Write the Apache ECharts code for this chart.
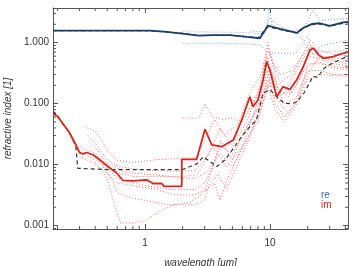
<!DOCTYPE html>
<html>
  <head>
    <meta charset="UTF-8" />
    <script src="https://cdn.jsdelivr.net/npm/echarts@6/dist/echarts.min.js"></script>
    <style>
      html, body { margin: 0; padding: 0; background: #fff; }
    </style>
  </head>
  <body>
    <div id="main"></div>
    <script>
      const width = 352;
      const height = 266;
      const main = document.getElementById('main');
      main.style.width = `${width}px`;
      main.style.height = `${height}px`;

      // axis ranges (wavelength in um, refractive index)
      const xRange = [0.184, 42];
      const yRange = [0.00088, 3.7];

      // real part, main curve
      const reMain = [[0.185,1.57],[1.1,1.57],[1.5,1.5],[1.9,1.42],[2.7,1.3],[3.5,1.33],[4.8,1.33],[6.5,1.24],[8.3,1.18],[9.6,1.9],[12,1.68],[16.4,1.44],[18.4,1.74],[21.7,2.03],[25,2.08],[30,1.88],[38.4,2.15],[42,2.2]];
      // real part, reference (dashed)
      const reRef = [[0.185,1.57],[1.1,1.57],[2,1.42],[2.7,1.31],[5,1.32],[8,1.2],[9.6,1.82],[11,1.72],[13,1.57],[16,1.46],[18,1.66],[21,1.96],[25,2.02],[30,1.86],[42,2.15]];
      // imaginary part, main curve
      const imMain = [[0.185,0.068],[0.2,0.062],[0.25,0.033],[0.284,0.02],[0.3,0.0157],[0.32,0.015],[0.342,0.0158],[0.386,0.0144],[0.436,0.0119],[0.506,0.0093],[0.594,0.0073],[0.667,0.0055],[0.8,0.0054],[1.04,0.0056],[1.16,0.0049],[1.36,0.0049],[1.42,0.0044],[1.97,0.0044],[1.97,0.0122],[2.59,0.0122],[3.02,0.038],[3.42,0.021],[4.1,0.0197],[5.1,0.0254],[5.94,0.054],[6.9,0.13],[7.3,0.089],[8.0,0.115],[8.8,0.245],[9.4,0.49],[10,0.35],[11.3,0.13],[12.7,0.19],[14.4,0.17],[16.3,0.245],[18.4,0.4],[20.9,0.76],[22.3,0.81],[24.4,0.63],[26.7,0.55],[31.9,0.59],[38.4,0.67],[42,0.7]];
      // imaginary part, reference (dashed)
      const imRef = [[0.185,0.075],[0.2,0.062],[0.25,0.033],[0.28,0.02],[0.29,0.0087],[0.5,0.0083],[1,0.0083],[2,0.0083],[2.6,0.0103],[2.93,0.0135],[3.75,0.0093],[4.37,0.012],[5.1,0.0185],[5.94,0.029],[6.9,0.042],[7.8,0.054],[8.8,0.15],[10,0.168],[11.3,0.13],[13,0.101],[15,0.1],[16.5,0.108],[18.6,0.148],[20.5,0.21],[22,0.28],[24,0.27],[27,0.38],[31,0.45],[38,0.55],[42,0.6]];

      // individual samples, imaginary part (dotted)
      const imS1 = [[0.33,0.042],[0.4,0.035],[0.45,0.026],[0.5,0.017],[0.6,0.0118],[0.8,0.0108],[1.2,0.012],[2.0,0.0128],[2.6,0.013],[3.1,0.03],[3.6,0.055],[4.3,0.03],[5.5,0.045],[7,0.16],[8.5,0.3],[9.6,1.0],[10.5,0.45],[12,0.22],[15,0.3],[18,0.6],[21,1.1],[25,0.75],[32,0.65],[42,0.6]];
      const imS2 = [[0.35,0.03],[0.42,0.02],[0.5,0.012],[0.6,0.0095],[0.8,0.0085],[1.2,0.008],[1.8,0.0078],[2.5,0.008],[3.0,0.012],[3.5,0.02],[4.5,0.009],[6,0.02],[7.5,0.07],[9,0.3],[10,0.7],[11.5,0.18],[14,0.13],[17,0.25],[20,0.6],[24,0.55],[32,0.45],[42,0.42]];
      const imS3 = [[0.3,0.02],[0.4,0.015],[0.5,0.0095],[0.6,0.0075],[0.8,0.0064],[1.2,0.0064],[2.0,0.0064],[2.6,0.0068],[3.2,0.014],[4.0,0.04],[5,0.02],[6.5,0.05],[8,0.15],[9.4,0.6],[11,0.2],[13,0.1],[16,0.12],[20,0.35],[25,0.35],[32,0.3],[42,0.3]];
      const imS4 = [[0.3,0.016],[0.4,0.012],[0.5,0.0088],[0.6,0.006],[0.8,0.005],[1.2,0.0043],[1.6,0.0039],[2.5,0.0039],[3.0,0.005],[3.5,0.009],[4.0,0.025],[5,0.012],[6,0.03],[8,0.09],[9.5,0.35],[11,0.1],[13,0.06],[16,0.1],[20,0.4],[24,0.5],[30,0.4],[42,0.35]];
      const imS5 = [[0.3,0.014],[0.4,0.01],[0.5,0.007],[0.6,0.005],[0.8,0.0045],[1.2,0.004],[1.7,0.0032],[2.5,0.0032],[3.2,0.004],[3.6,0.005],[4.0,0.0026],[4.6,0.006],[6,0.02],[8,0.05],[9.5,0.2],[11,0.08],[13,0.05],[16,0.09],[20,0.3],[25,0.6],[32,0.5],[42,0.45]];
      const imS6 = [[0.4,0.011],[0.5,0.006],[0.55,0.0028],[0.6,0.0016],[0.64,0.0011],[0.8,0.0011],[1.0,0.0012],[1.3,0.0017],[1.7,0.0022],[2.3,0.0024],[3.0,0.0035],[3.5,0.01],[4,0.02],[5,0.015],[6.5,0.04],[8,0.08],[9.5,0.25],[11,0.12],[13,0.15],[18,0.5],[21,0.9],[25,0.6],[35,0.5],[42,0.5]];
      const imS7 = [[0.45,0.01],[0.55,0.0055],[0.6,0.0035],[0.8,0.0028],[1.0,0.0026],[1.5,0.0022],[2.5,0.0022],[3.0,0.0026],[3.3,0.005],[3.8,0.007],[4.5,0.004],[5.5,0.01],[7,0.03],[9,0.15],[10,0.4],[12,0.15],[15,0.15],[20,0.45],[25,0.45],[42,0.38]];
      const imS8 = [[2.0,0.058],[2.7,0.058],[3.0,0.1],[3.5,0.06],[4.2,0.055],[5,0.058],[6,0.05],[7,0.09],[8.5,0.2],[9.6,0.8],[10.5,0.5],[12,0.3],[15,0.35],[19,0.7],[22,0.9],[26,0.6],[35,0.55],[42,0.55]];
      const imS9 = [[0.35,0.025],[0.42,0.017],[0.5,0.0105],[0.7,0.0075],[1.0,0.007],[1.5,0.0065],[2.0,0.006],[2.6,0.006],[3.2,0.008],[4.0,0.015],[5,0.009],[6.5,0.025],[8,0.06],[9,0.12],[10,0.25],[12,0.1],[14,0.07],[17,0.12],[20,0.25],[25,0.3],[42,0.28]];

      // individual samples, real part (dotted)
      const reS1 = [[2.0,1.5],[3,1.5],[5,1.48],[7,1.45],[8.5,1.4],[9.3,1.45],[9.8,3.8],[10.4,1.9],[12,1.7],[15,1.55],[18,1.7],[20,2.2],[22,3.4],[25,2.3],[30,2.4],[42,2.5]];
      const reS2 = [[2.0,0.98],[4,0.98],[7,0.95],[8.5,0.9],[9.5,0.68],[12,0.67],[16,0.67],[18,0.9],[20,1.3],[22,0.63],[25,0.7],[42,0.75]];
      const reS3 = [[7,1.55],[9,1.5],[10,2.6],[11,2.1],[13,1.7],[17,1.34],[22,0.65],[26,0.9],[42,1.1]];

      const imSamples = [imS1, imS2, imS3, imS4, imS5, imS6, imS7, imS8, imS9];
      const reSamples = [reS1, reS2, reS3];

      const font = '"Liberation Sans", Arial, Helvetica, sans-serif';
      const frame = '#555';

      const dotted = (data, color) => ({
        type: 'line',
        data,
        showSymbol: false,
        silent: true,
        clip: true,
        lineStyle: { width: 1, type: [1, 2], color },
        z: 1,
      });

      const series = [];
      imSamples.forEach((d) => series.push(dotted(d, '#ec6a6a')));
      reSamples.forEach((d) => series.push(dotted(d, '#7d9cc8')));
      series.push({
        type: 'line', data: imRef, showSymbol: false, clip: true,
        lineStyle: { width: 1.2, type: [4, 3], color: '#333' }, z: 2,
      });
      series.push({
        type: 'line', data: reRef, showSymbol: false, clip: true,
        lineStyle: { width: 1.2, type: [4, 3], color: '#333' }, z: 2,
      });
      series.push({
        type: 'line', data: imMain, showSymbol: false, clip: true,
        lineStyle: { width: 1.8, color: '#d4291f' }, z: 3,
      });
      series.push({
        type: 'line', data: reMain, showSymbol: false, clip: true,
        lineStyle: { width: 1.8, color: '#1c3d68' }, z: 3,
      });

      const baseX = {
        type: 'log',
        logBase: 10,
        min: xRange[0],
        max: xRange[1],
        axisLine: { show: true, lineStyle: { color: frame, width: 1 } },
        axisTick: { show: true, inside: true, length: 5, lineStyle: { color: frame } },
        splitLine: { show: false },
        minorTick: { show: false },
      };
      const baseY = {
        type: 'log',
        logBase: 10,
        min: yRange[0],
        max: yRange[1],
        axisLine: { show: true, lineStyle: { color: frame, width: 1 } },
        axisTick: { show: true, inside: true, length: 5, lineStyle: { color: frame } },
        splitLine: { show: false },
      };
      const isDecade = (v) => Math.abs(Math.log10(v) - Math.round(Math.log10(v))) < 1e-6;

      const myChart = echarts.init(main);
      const option = {
        animation: false,
        grid: { left: 53, top: 8, right: 4, bottom: 37, containLabel: false, outerBoundsMode: 'none' },
        xAxis: [
          {
            ...baseX,
            position: 'bottom',
            name: 'wavelength [\u03bcm]',
            nameLocation: 'middle',
            nameGap: 29,
            nameTextStyle: { fontFamily: font, fontSize: 10, fontStyle: 'italic', color: '#333' },
            axisLabel: {
              margin: 9,
              fontFamily: font,
              fontSize: 10,
              color: '#333',
              showMinLabel: false,
              showMaxLabel: false,
              formatter: (v) => (isDecade(v) ? String(Math.round(v)) : ''),
            },
          },
          { ...baseX, position: 'top', axisLabel: { show: false } },
        ],
        yAxis: [
          {
            ...baseY,
            position: 'left',
            name: 'refractive index [1]',
            nameLocation: 'middle',
            nameGap: 33,
            nameTextStyle: { fontFamily: font, fontSize: 10, fontStyle: 'italic', color: '#333' },
            axisLabel: {
              margin: 4,
              fontFamily: font,
              fontSize: 10,
              color: '#333',
              showMinLabel: false,
              showMaxLabel: false,
              formatter: (v) => (isDecade(v) ? v.toFixed(3) : ''),
            },
          },
          { ...baseY, position: 'right', axisLabel: { show: false } },
        ],
        series,
        graphic: [
          {
            type: 'text', left: 321, top: 190,
            style: { text: 're', fill: '#3b6fa8', font: `10px ${font}` },
          },
          {
            type: 'text', left: 321, top: 200,
            style: { text: 'im', fill: '#d4291f', font: `10px ${font}` },
          },
        ],
      };
      myChart.setOption(option);

      // minor log ticks on all four sides
      const minor = [];
      const gridRect = { x0: 53, y0: 8, x1: width - 4, y1: height - 37 };
      const minorLen = 3;
      [0.1, 1, 10].forEach((d) => {
        for (let k = 2; k <= 9; k++) {
          const v = k * d;
          if (v <= xRange[0] || v >= xRange[1]) continue;
          const px = myChart.convertToPixel({ xAxisIndex: 0 }, v);
          minor.push({ type: 'line', silent: true, shape: { x1: px, y1: gridRect.y1, x2: px, y2: gridRect.y1 - minorLen }, style: { stroke: frame, lineWidth: 1 } });
          minor.push({ type: 'line', silent: true, shape: { x1: px, y1: gridRect.y0, x2: px, y2: gridRect.y0 + minorLen }, style: { stroke: frame, lineWidth: 1 } });
        }
      });
      [0.0001, 0.001, 0.01, 0.1, 1].forEach((d) => {
        for (let k = 2; k <= 9; k++) {
          const v = k * d;
          if (v <= yRange[0] || v >= yRange[1]) continue;
          const py = myChart.convertToPixel({ yAxisIndex: 0 }, v);
          minor.push({ type: 'line', silent: true, shape: { x1: gridRect.x0, y1: py, x2: gridRect.x0 + minorLen, y2: py }, style: { stroke: frame, lineWidth: 1 } });
          minor.push({ type: 'line', silent: true, shape: { x1: gridRect.x1, y1: py, x2: gridRect.x1 - minorLen, y2: py }, style: { stroke: frame, lineWidth: 1 } });
        }
      });
      myChart.setOption({ graphic: option.graphic.concat(minor) });
    </script>
  </body>
</html>
